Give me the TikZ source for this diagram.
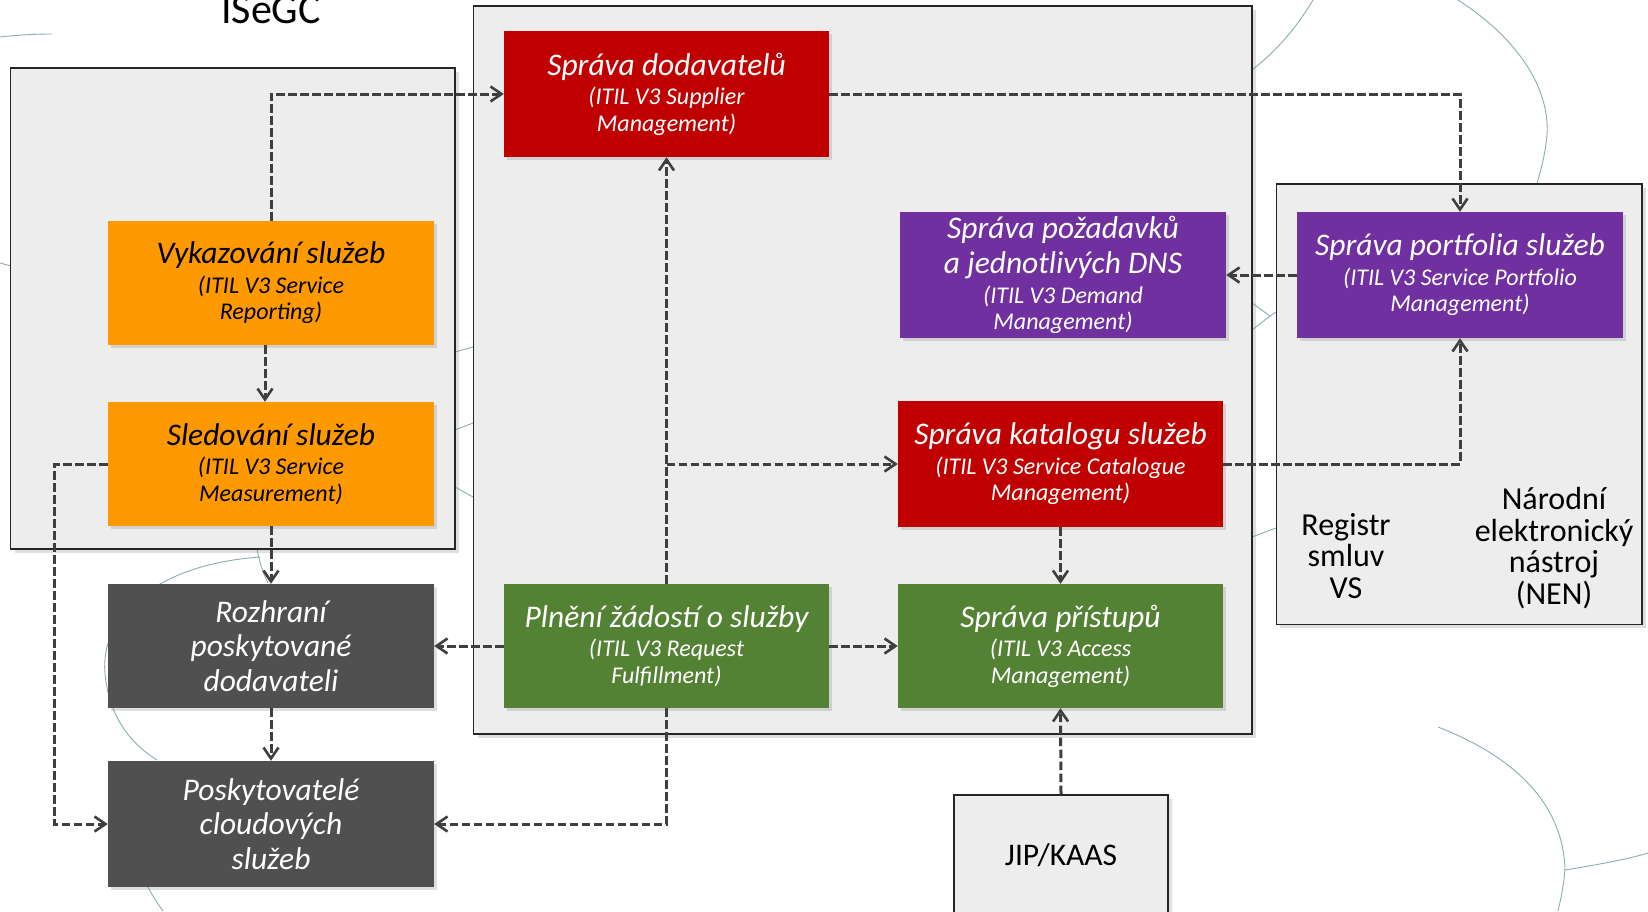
\documentclass[tikz,border=0pt]{standalone}
\usepackage{fontspec}
\setmainfont{Carlito}
\usetikzlibrary{arrows.meta,shadows,calc}
\definecolor{cOrange}{HTML}{FF9900}
\definecolor{cRed}{HTML}{C00000}
\definecolor{cPurple}{HTML}{7030A0}
\definecolor{cGreen}{HTML}{548235}
\definecolor{cGray}{HTML}{505050}
\definecolor{cCont}{HTML}{EDEDED}
\definecolor{cLine}{HTML}{3F3F3F}
\definecolor{cDeco}{HTML}{8FAAB0}
\newcommand\bxt[2]{\begin{minipage}{320pt}\centering\fontsize{31.5}{35}\selectfont\itshape #1\par\vspace{3pt}\fontsize{24}{26.5}\selectfont #2\par\end{minipage}}
\newcommand\bxo[1]{\begin{minipage}{320pt}\centering\fontsize{31.5}{34.5}\selectfont\itshape #1\par\end{minipage}}
\tikzset{
  procbox/.style={rectangle, inner sep=0pt, minimum width=326pt, minimum height=124pt, text=white,
    drop shadow={shadow xshift=3pt, shadow yshift=-3pt, opacity=0.25}},
  contbox/.style={rectangle, inner sep=0pt, draw=black!85, line width=1.6pt, fill=cCont,
    drop shadow={shadow xshift=4pt, shadow yshift=-4pt, opacity=0.25}},
  arr/.style={draw=cLine, line width=3pt, dash pattern=on 8.5pt off 3.5pt,
    -{Straight Barb[length=11pt,width=15pt,line width=2.6pt]}},
  deco/.style={draw=cDeco, line width=0.9pt}
}
\begin{document}
\begin{tikzpicture}[x=1pt,y=-1pt]
\useasboundingbox (0,0) rectangle (1648,911);
\clip (0,0) rectangle (1648,911);
\fill[white] (0,0) rectangle (1648,911);
% decorative background arcs
\draw[deco] (0,37) .. controls (18,35) and (35,34) .. (52,34);
\draw[deco] (0,263) -- (11,266);
\draw[deco] (455,352) -- (473,347);
\draw[deco] (455,430) -- (473,423);
\draw[deco] (455,487) -- (473,497);
\draw[deco] (260,557) .. controls (150,565) and (100,620) .. (105,673) .. controls (108,710) and (125,740) .. (157,760);
\draw[deco] (257,549) .. controls (260,565) and (264,575) .. (268,583);
\draw[deco] (148,887) .. controls (153,897) and (158,904) .. (163,911);
\draw[deco] (1313,0) .. controls (1295,30) and (1275,52) .. (1252,70);
\draw[deco] (1458,0) .. controls (1520,40) and (1550,90) .. (1547,135) .. controls (1545,155) and (1541,170) .. (1537,183);
\draw[deco] (1252,303) -- (1270,316) -- (1252,330);
\draw[deco] (1270,316) -- (1276,312);
\draw[deco] (1252,537) -- (1276,528);
\draw[deco] (1438,727) .. controls (1510,755) and (1562,800) .. (1565,868) .. controls (1564,885) and (1561,898) .. (1558,911);
\draw[deco] (1565,870) .. controls (1595,865) and (1625,860) .. (1648,853);
% containers
\node[contbox, minimum width=444.5pt, minimum height=481pt] (leftc) at (232.75,308.5) {};
\node[contbox, minimum width=778.5pt, minimum height=728pt] (midc) at (862.75,370) {};
\node[contbox, minimum width=365.6pt, minimum height=440.6pt] (rightc) at (1459.2,404) {};
\node[contbox, minimum width=214pt, minimum height=122pt] (jip) at (1061,856) {};
% titles / plain texts
\node[font=\fontsize{42}{44}\selectfont, anchor=base] (isegc) at (271,23) {ISeGC};
\node[font=\fontsize{32}{31.5}\selectfont, align=center] (registr) at (1346,556) {Registr\\smluv\\VS};
\node[font=\fontsize{32}{31.5}\selectfont, align=center] (nen) at (1554,548) {Národní\\elektronický\\nástroj\\(NEN)};
\node[font=\fontsize{31.5}{33}\selectfont, anchor=base] (jiptext) at (1061,865) {JIP/KAAS};
% process boxes
\node[procbox, fill=cRed, minimum width=325pt, minimum height=126pt] (sup) at (666.5,94) {\bxt{Správa dodavatelů}{(ITIL V3 Supplier\\Management)}};
\node[procbox, fill=cOrange, text=black] (vyk) at (271,283) {\bxt{Vykazování služeb}{(ITIL V3 Service\\Reporting)}};
\node[procbox, fill=cOrange, text=black] (sled) at (271,464) {\bxt{Sledování služeb}{(ITIL V3 Service\\Measurement)}};
\node[procbox, fill=cGray] (roz) at (271,646) {\bxo{Rozhraní\\poskytované\\dodavateli}};
\node[procbox, fill=cGray, minimum height=126pt] (posk) at (271,824) {\bxo{Poskytovatelé\\cloudových\\služeb}};
\node[procbox, fill=cGreen, minimum width=325pt] (pln) at (666.5,646) {\bxt{Plnění žádostí o služby}{(ITIL V3 Request\\Fulfillment)}};
\node[procbox, fill=cPurple, minimum height=126pt] (poz) at (1063,275) {\bxt{Správa požadavků\\a jednotlivých DNS}{(ITIL V3 Demand\\Management)}};
\node[procbox, fill=cPurple, minimum height=126pt] (port) at (1460,275) {\bxt{Správa portfolia služeb}{(ITIL V3 Service Portfolio\\Management)}};
\node[procbox, fill=cRed, minimum width=325pt, minimum height=126pt] (kat) at (1060.5,464) {\bxt{Správa katalogu služeb}{(ITIL V3 Service Catalogue\\Management)}};
\node[procbox, fill=cGreen, minimum width=325pt] (pri) at (1060.5,646) {\bxt{Správa přístupů}{(ITIL V3 Access\\Management)}};
% connectors
\coordinate (br) at (pln.north |- kat.west);
\draw[arr] (vyk.north) |- (sup.west);
\draw[arr] ($(vyk.south)+(-6,0)$) -- ($(sled.north)+(-6,0)$);
\draw[arr] (sled.south) -- (roz.north);
\draw[arr] (roz.south) -- (posk.north);
\draw[arr] (sled.west) -- ++(-53,0) |- (posk.west);
\draw[arr] (pln.west) -- (roz.east);
\draw[arr] (pln.south) |- (posk.east);
\draw[arr] (pln.north) -- (sup.south);
\draw[arr] (br) -- (kat.west);
\draw[arr] (pln.east) -- (pri.west);
\draw[arr] (kat.south) -- (pri.north);
\draw[arr] (jip.north) -- (pri.south);
\draw[arr] (sup.east) -| (port.north);
\draw[arr] (port.west) -- (poz.east);
\draw[arr] (kat.east) -| (port.south);
\end{tikzpicture}
\end{document}
